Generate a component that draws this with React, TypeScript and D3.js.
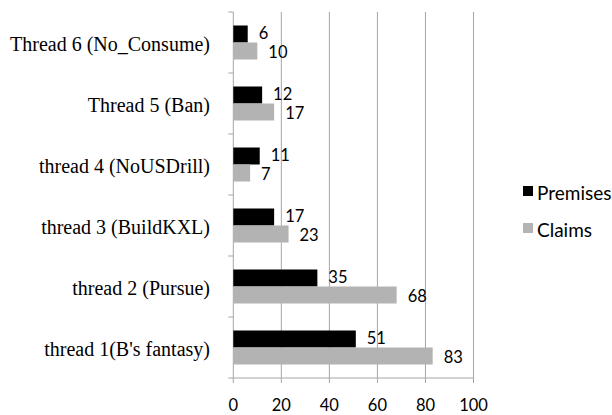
import React from "react";
import * as d3 from "d3";

const categories = [
  "Thread 6 (No_Consume)",
  "Thread 5 (Ban)",
  "thread 4 (NoUSDrill)",
  "thread 3 (BuildKXL)",
  "thread 2 (Pursue)",
  "thread 1(B's fantasy)",
];
const premises = [6, 12, 11, 17, 35, 51];
const claims = [10, 17, 7, 23, 68, 83];
const xTicks = [0, 20, 40, 60, 80, 100];
const seriesNames = ["Premises", "Claims"];
const seriesColors = ["#000000", "#b3b3b3"];

export default function App() {
  const W = 612, H = 415;
  const left = 233.3, right = 473.5, top = 12, bottom = 378;
  const x = d3.scaleLinear().domain([0, 100]).range([left, right]);
  const y = d3.scaleBand().domain(categories).range([top, bottom]).paddingInner(0).paddingOuter(0);
  const band = y.bandwidth();
  const barH = 17;
  const numFont = "Lato, 'Open Sans', sans-serif";
  const series = [premises, claims];
  const bounds = d3.range(categories.length + 1).map((i) => top + i * band);

  return (
    <svg width={W} height={H} style={{ position: "absolute", left: 0, top: 0, background: "#fff" }}>
      {xTicks.slice(1).map((t) => (
        <line key={"g" + t} x1={x(t)} x2={x(t)} y1={top} y2={bottom} stroke="#a6a6a6" strokeWidth={1} />
      ))}
      <line x1={left} x2={left} y1={top} y2={bottom} stroke="#a6a6a6" />
      <line x1={left} x2={right} y1={bottom} y2={bottom} stroke="#a6a6a6" />
      {xTicks.map((t) => (
        <line key={"t" + t} x1={x(t)} x2={x(t)} y1={bottom} y2={bottom + 5} stroke="#a6a6a6" />
      ))}
      {bounds.map((b, i) => (
        <line key={"yt" + i} x1={left - 5} x2={left} y1={b} y2={b} stroke="#a6a6a6" />
      ))}
      {categories.map((c, i) => {
        const cy = (y(c) as number) + band / 2;
        return (
          <g key={c}>
            {series.map((s, si) => {
              const by = cy - barH + si * barH;
              return (
                <g key={si}>
                  <rect x={x(0)} y={by} width={x(s[i]) - x(0)} height={barH} fill={seriesColors[si]} />
                  <text
                    x={x(s[i]) + 11}
                    y={by + barH / 2 + (si === 0 ? -1 : 1)}
                    dominantBaseline="central"
                    fontFamily={numFont}
                    fontSize={16.5}
                    fill="#000"
                  >
                    {s[i]}
                  </text>
                </g>
              );
            })}
            <text
              x={210}
              y={cy + 1}
              textAnchor="end"
              dominantBaseline="central"
              fontFamily="'Liberation Serif', 'Times New Roman', serif"
              fontSize={20}
              fill="#000"
            >
              {c}
            </text>
          </g>
        );
      })}
      {xTicks.map((t) => (
        <text
          key={"xl" + t}
          x={x(t)}
          y={bottom + 27}
          textAnchor="middle"
          dominantBaseline="central"
          fontFamily={numFont}
          fontSize={16.5}
          fill="#000"
        >
          {t}
        </text>
      ))}
      {seriesNames.map((n, i) => (
        <g key={n} transform={`translate(523, ${191 + i * 37})`}>
          <rect x={0} y={-5} width={10} height={10} fill={seriesColors[i]} />
          <text x={14} y={1} dominantBaseline="central" fontFamily={numFont} fontSize={19} fill="#000">
            {n}
          </text>
        </g>
      ))}
    </svg>
  );
}
